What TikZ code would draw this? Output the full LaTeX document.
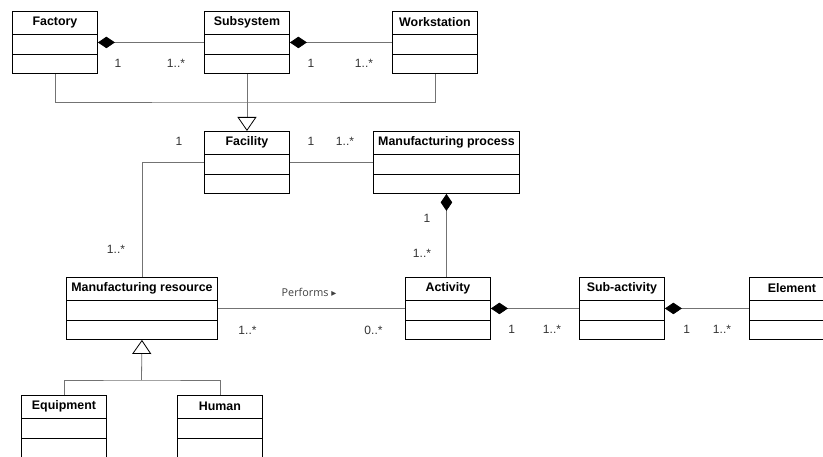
\documentclass[tikz,border=0pt]{standalone}
\usepackage{fontspec}
\setmainfont{Liberation Sans}
\newfontfamily\osans{Open Sans}
\newfontfamily\dvs{DejaVu Sans}
\usetikzlibrary{arrows.meta,calc}
\tikzset{
  classbox/.style={draw=black, line width=0.9pt, inner sep=0pt, fill=white},
  hdr/.style={font=\fontsize{12.4}{14}\selectfont\bfseries, inner sep=0pt},
  mult/.style={font=\fontsize{12}{14}\selectfont, text=black!80, inner sep=0pt},
  conn/.style={draw=black!55, line width=0.8pt},
  comp/.style={conn, {Diamond[length=17pt,width=11.5pt,color=black]}-},
  gen/.style={conn, -{Triangle[length=14pt,width=19pt,color=black,fill=white]}},
}
\newcommand\umlbox[6][62]{%
  \node[classbox, minimum width=#5pt, minimum height=#1pt, anchor=north west] (#2) at (#3,#4) {};
  \node[hdr] (#2-title) at ($(#2.north)+(0,11.5)$) {#6};
  \draw[line width=0.9pt] ($(#2.north west)+(0,23)$) -- ($(#2.north east)+(0,23)$);
  \draw[line width=0.9pt] ($(#2.north west)+(0,43)$) -- ($(#2.north east)+(0,43)$);
}
\begin{document}
\begin{tikzpicture}[x=1pt,y=-1pt]
\useasboundingbox (0,0) rectangle (823,457);
\clip (0,0) rectangle (823,457);
\fill[white] (0,0) rectangle (823,457);
% classes
\umlbox{Factory}{12}{11}{85}{Factory}
\umlbox{Subsystem}{204}{11}{85}{Subsystem}
\umlbox{Workstation}{392}{11}{85}{Workstation}
\umlbox{Facility}{204}{131}{85}{Facility}
\umlbox{MP}{373}{131}{146}{Manufacturing process}
\umlbox{MR}{66}{277}{151}{Manufacturing resource}
\umlbox{Activity}{405}{277}{85}{Activity}
\umlbox{SubActivity}{579}{277}{85}{Sub-activity}
\umlbox{Element}{749}{277}{85}{Element}
\umlbox[70]{Equipment}{21}{395}{85}{Equipment}
\umlbox[70]{Human}{177}{395}{85}{Human}
% compositions
\draw[comp] (Factory.east) -- (Subsystem.west);
\draw[comp] (Subsystem.east) -- (Workstation.west);
\draw[comp] (MP.south) -- (MP.south |- Activity.north);
\draw[comp] (Activity.east) -- (SubActivity.west);
\draw[comp] (SubActivity.east) -- (Element.west);
% generalizations
\coordinate (gj1) at (246.5,102);
\draw[conn] (Factory.south) |- (gj1) -| (Workstation.south);
\draw[gen] (Subsystem.south) -- (Facility.north);
\coordinate (gj2) at (141.5,380);
\draw[conn] (Equipment.north) |- (gj2) -| (Human.north);
\draw[gen] (gj2) -- (MR.south);
% associations
\draw[conn] (Facility.east) -- (MP.west);
\draw[conn] (Facility.west) -| (MR.north);
\draw[conn] (MR.east) -- (Activity.west);
% multiplicities
\node[mult] (m1) at (118,63) {1};
\node[mult] (m2) at (176,63) {1..*};
\node[mult] (m3) at (311,63) {1};
\node[mult] (m4) at (364,63) {1..*};
\node[mult] (m5) at (179,141) {1};
\node[mult] (m6) at (311,141) {1};
\node[mult] (m7) at (345,141) {1..*};
\node[mult] (m8) at (116,249) {1..*};
\node[mult] (m9) at (427,218) {1};
\node[mult] (m10) at (422,253) {1..*};
\node[mult] (m11) at (247.5,330) {1..*};
\node[mult] (m12) at (373.5,330) {0..*};
\node[mult] (m13) at (511.7,329) {1};
\node[mult] (m14) at (552,329) {1..*};
\node[mult] (m15) at (686.7,329) {1};
\node[mult] (m16) at (722,329) {1..*};
\node[font=\osans\fontsize{10.8}{12}\selectfont, text=black!75, inner sep=0pt] (perf) at (309,292) {Performs {\dvs\fontsize{10}{12}\selectfont ▸}};
\end{tikzpicture}
\end{document}
